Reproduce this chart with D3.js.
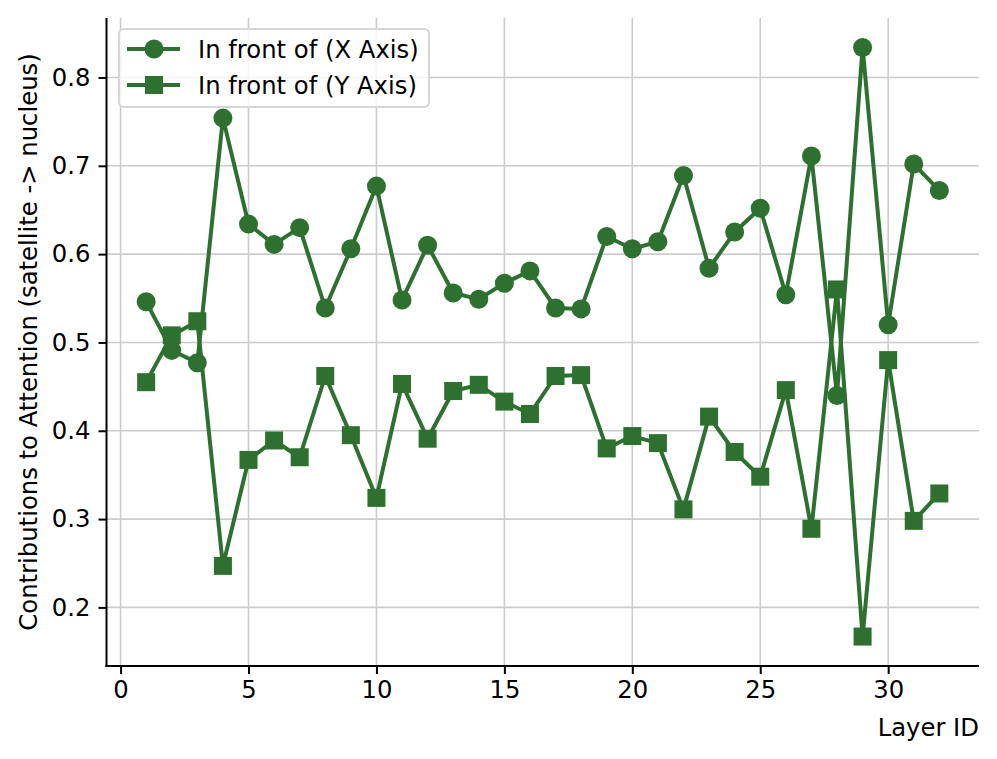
<!DOCTYPE html>
<html>
<head>
<meta charset="utf-8">
<script src="https://cdn.jsdelivr.net/npm/d3@7"></script>
<style>
  html, body { margin: 0; padding: 0; background: #ffffff; }
  svg { display: block; }
  text { font-family: "DejaVu Sans", sans-serif; }
</style>
</head>
<body>
<div id="chart"></div>
<script>
// ---- data ----
const layers = [1,2,3,4,5,6,7,8,9,10,11,12,13,14,15,16,17,18,19,20,21,22,23,24,25,26,27,28,29,30,31,32];
const xAxisValues = [0.546,0.491,0.477,0.754,0.634,0.611,0.630,0.539,0.606,0.677,0.548,0.610,0.556,0.549,0.567,0.581,0.539,0.538,0.620,0.606,0.614,0.689,0.584,0.625,0.652,0.554,0.711,0.440,0.834,0.520,0.702,0.672];
const yAxisValues = [0.455,0.508,0.524,0.247,0.367,0.389,0.370,0.462,0.395,0.324,0.453,0.391,0.445,0.452,0.433,0.419,0.462,0.463,0.380,0.394,0.386,0.311,0.416,0.376,0.348,0.446,0.289,0.560,0.167,0.480,0.298,0.329];
const seriesNames = ["In front of (X Axis)", "In front of (Y Axis)"];
const xTicks = [0,5,10,15,20,25,30];
const yTicks = [0.2,0.3,0.4,0.5,0.6,0.7,0.8];
const xLabel = "Layer ID";
const yLabel = "Contributions to Attention (satellite -> nucleus)";

(function () {
// ---- layout ----
const W = 997, H = 759;
const mLeft = 106.5, mRight = 979, mTop = 18, mBottom = 666;
const color = "#2d7030";
const fontSize = 24.3;
const lineW = 4;
const markerSize = 19;

const svg = d3.select("#chart").append("svg").attr("width", W).attr("height", H);

const xMin = d3.min(layers), xMax = d3.max(layers);
const xPad = (xMax - xMin) * 0.05;
const allY = xAxisValues.concat(yAxisValues);
const yMin = d3.min(allY), yMax = d3.max(allY);
const yPad = (yMax - yMin) * 0.05;

const x = d3.scaleLinear().domain([xMin - xPad, xMax + xPad]).range([mLeft, mRight]);
const y = d3.scaleLinear().domain([yMin - yPad, yMax + yPad]).range([mBottom, mTop]);

// grid
const grid = svg.append("g");
grid.selectAll(".vg").data(xTicks).join("line")
  .attr("x1", d => x(d)).attr("x2", d => x(d))
  .attr("y1", mTop).attr("y2", mBottom)
  .attr("stroke", "#cccccc").attr("stroke-width", 1.6);
grid.selectAll(".hg").data(yTicks).join("line")
  .attr("x1", mLeft).attr("x2", mRight)
  .attr("y1", d => y(d)).attr("y2", d => y(d))
  .attr("stroke", "#cccccc").attr("stroke-width", 1.6);

// axes
const xAxis = d3.axisBottom(x).tickValues(xTicks).tickFormat(d3.format("d")).tickSize(8).tickPadding(7);
const yAxis = d3.axisLeft(y).tickValues(yTicks).tickFormat(d3.format(".1f")).tickSize(8).tickPadding(8);

const gx = svg.append("g").attr("transform", `translate(0,${mBottom})`).call(xAxis);
const gy = svg.append("g").attr("transform", `translate(${mLeft},0)`).call(yAxis);
[gx, gy].forEach(g => {
  g.select(".domain").remove();
  g.selectAll(".tick line").attr("stroke", "#000").attr("stroke-width", 2);
  g.selectAll(".tick text").attr("font-size", fontSize).attr("fill", "#000")
    .attr("font-family", "DejaVu Sans, sans-serif");
});

// spines
svg.append("line").attr("x1", mLeft).attr("x2", mLeft).attr("y1", mTop).attr("y2", mBottom + 1)
  .attr("stroke", "#000").attr("stroke-width", 2);
svg.append("line").attr("x1", mLeft - 1).attr("x2", mRight).attr("y1", mBottom).attr("y2", mBottom)
  .attr("stroke", "#000").attr("stroke-width", 2);

// labels
svg.append("text").attr("x", mRight).attr("y", 736).attr("text-anchor", "end")
  .attr("font-size", fontSize).attr("fill", "#000").text(xLabel);
svg.append("text").attr("transform", `translate(37,${(mTop + mBottom) / 2}) rotate(-90)`)
  .attr("text-anchor", "middle").attr("font-size", fontSize).attr("fill", "#000").text(yLabel);

// lines
const line = d3.line().x(d => x(d[0])).y(d => y(d[1]));
const dataX = layers.map((l, i) => [l, xAxisValues[i]]);
const dataY = layers.map((l, i) => [l, yAxisValues[i]]);

function drawSeries(data, shape) {
  svg.append("path").datum(data).attr("d", line)
    .attr("fill", "none").attr("stroke", color).attr("stroke-width", lineW)
    .attr("stroke-linejoin", "round").attr("stroke-linecap", "square");
  const g = svg.append("g");
  if (shape === "circle") {
    g.selectAll("circle").data(data).join("circle")
      .attr("cx", d => x(d[0])).attr("cy", d => y(d[1])).attr("r", markerSize / 2)
      .attr("fill", color);
  } else {
    const s = markerSize - 1;
    g.selectAll("rect").data(data).join("rect")
      .attr("x", d => x(d[0]) - s / 2).attr("y", d => y(d[1]) - s / 2)
      .attr("width", s).attr("height", s)
      .attr("fill", color);
  }
}
drawSeries(dataX, "circle");
drawSeries(dataY, "square");

// legend
const lg = svg.append("g");
lg.append("rect").attr("x", 119).attr("y", 29).attr("width", 310).attr("height", 78)
  .attr("rx", 5).attr("fill", "#ffffff").attr("fill-opacity", 0.8)
  .attr("stroke", "#d6d6d6").attr("stroke-width", 2);
const rows = [{name: seriesNames[0], shape: "circle", cy: 49}, {name: seriesNames[1], shape: "square", cy: 85}];
rows.forEach(r => {
  lg.append("line").attr("x1", 127).attr("x2", 180).attr("y1", r.cy).attr("y2", r.cy)
    .attr("stroke", color).attr("stroke-width", lineW);
  if (r.shape === "circle") {
    lg.append("circle").attr("cx", 154).attr("cy", r.cy).attr("r", markerSize / 2).attr("fill", color);
  } else {
    const s = markerSize - 1;
    lg.append("rect").attr("x", 154 - s / 2).attr("y", r.cy - s / 2)
      .attr("width", s).attr("height", s).attr("fill", color);
  }
  lg.append("text").attr("x", 198).attr("y", r.cy).attr("dy", "0.35em")
    .attr("font-size", fontSize).attr("fill", "#000").text(r.name);
});
})();
</script>
</body>
</html>
